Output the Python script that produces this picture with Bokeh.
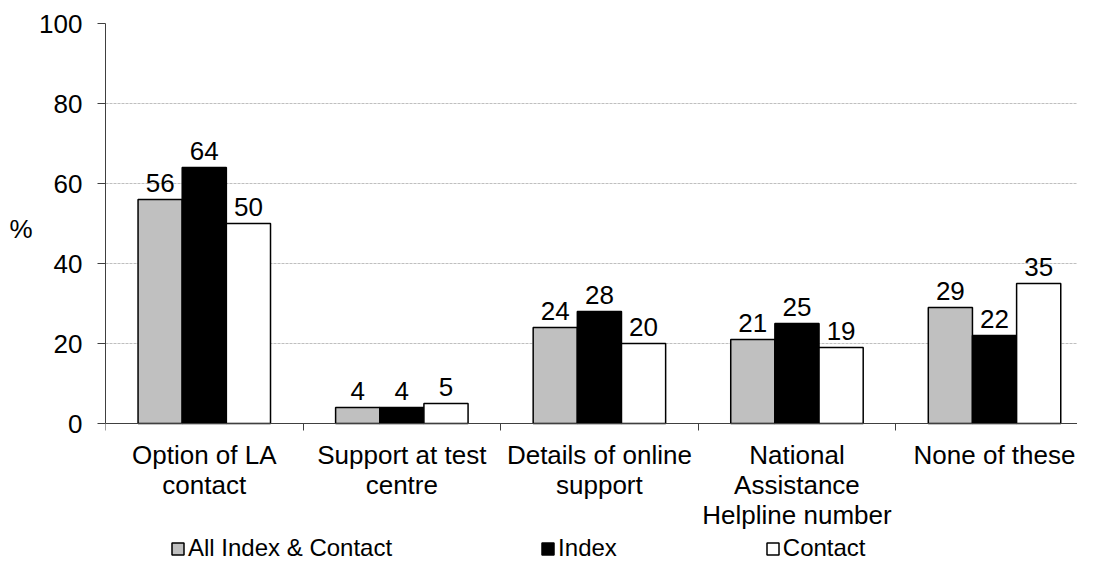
from bokeh.plotting import figure
from bokeh.models import (Range1d, FixedTicker, Legend, LegendItem, ColumnDataSource, LinearAxis)
from bokeh.core.properties import value
from bokeh.embed import file_html
from bokeh.resources import INLINE

# ---- data ----
categories = ["Option of LA\ncontact", "Support at test\ncentre", "Details of online\nsupport",
              "National\nAssistance\nHelpline number", "None of these"]
all_index_contact = [56, 4, 24, 21, 29]
index_vals = [64, 4, 28, 25, 22]
contact_vals = [50, 5, 20, 19, 35]
series_names = ["All Index & Contact", "Index", "Contact"]
y_ticks = [0, 20, 40, 60, 80, 100]
y_unit_label = "%"

FONT = "Liberation Sans"

# frame extends below the value axis so the legend can sit inside it
p = figure(width=1077, height=562, output_backend="svg", toolbar_location=None,
           x_range=Range1d(0.5, 0.5 + 4.92), y_range=Range1d(-34.75, 100),
           min_border_left=105, min_border_top=23, min_border_bottom=0, min_border_right=0)
p.title = None
p.outline_line_color = None
p.background_fill_color = "white"
p.border_fill_color = "white"

# grid
p.xgrid.grid_line_color = None
p.ygrid.grid_line_color = "#BFBFBF"
p.ygrid.grid_line_dash = "3 1"
p.ygrid.grid_line_width = 1
p.ygrid.ticker = FixedTicker(ticks=[20, 40, 60, 80, 100])

# y axis
yax = p.yaxis[0]
yax.ticker = FixedTicker(ticks=y_ticks)
yax.bounds = (0, 100)
yax.axis_line_color = "#404040"
yax.major_tick_line_color = "#404040"
yax.major_tick_out = 8
yax.major_tick_in = 0
yax.minor_tick_line_color = None
yax.major_label_standoff = 15
yax.major_label_text_font = FONT
yax.major_label_text_font_size = "26px"
yax.major_label_text_color = "black"

# "%" as an extra left axis carrying a single label
pct_axis = LinearAxis(ticker=FixedTicker(ticks=[48.7], minor_ticks=[]),
                      major_label_overrides={48.7: y_unit_label})
pct_axis.axis_line_color = None
pct_axis.major_tick_line_color = None
pct_axis.minor_tick_line_color = None
pct_axis.major_tick_out = 0
pct_axis.major_tick_in = 0
pct_axis.major_label_standoff = 4
pct_axis.major_label_text_font = FONT
pct_axis.major_label_text_font_size = "26px"
pct_axis.major_label_text_color = "black"
p.add_layout(pct_axis, "left")

# x axis, pinned at value 0
xax = p.xaxis[0]
xax.fixed_location = 0
cat_pos = [1, 2, 3, 4, 5]
xax.ticker = FixedTicker(ticks=cat_pos, minor_ticks=[0.5, 1.5, 2.5, 3.5, 4.5, 5.5])
xax.major_label_overrides = {pos: lab for pos, lab in zip(cat_pos, categories)}
xax.axis_line_color = "#404040"
xax.major_tick_line_color = None
xax.major_tick_out = 0
xax.major_tick_in = 0
xax.minor_tick_line_color = "#404040"
xax.minor_tick_out = 7
xax.minor_tick_in = 0
xax.major_label_standoff = 9
xax.major_label_text_font = FONT
xax.major_label_text_font_size = "26px"
xax.major_label_text_color = "black"
xax.major_label_text_line_height = 1.0

# bars
bw = 0.2235
offsets = [-bw, 0.0, bw]
fills = ["#C0C0C0", "black", "white"]
series = [all_index_contact, index_vals, contact_vals]
renderers = []
for vals, off, fc in zip(series, offsets, fills):
    src = ColumnDataSource(dict(x=[c + off for c in cat_pos], top=vals,
                                label=[str(v) for v in vals]))
    r = p.vbar(x="x", top="top", bottom=0, width=bw, source=src,
               fill_color=fc, line_color="black", line_width=1.5)
    renderers.append(r)
    p.text(x="x", y="top", text="label", source=src, text_align="center",
           text_baseline="alphabetic", y_offset=-17, text_font_size="26px",
           text_font=value(FONT), text_color="black")

# legend inside the (extended) frame, below the category labels
leg = Legend(items=[LegendItem(label=n, renderers=[r]) for n, r in zip(series_names, renderers)],
             location=(65, 0), orientation="horizontal", padding=0, margin=0, spacing=148,
             glyph_width=15, glyph_height=15, label_standoff=3,
             label_text_font=FONT, label_text_font_size="24px", label_text_color="black",
             border_line_color=None, background_fill_alpha=0)
p.add_layout(leg, "center")

open("out.html", "w").write(file_html(p, INLINE))
